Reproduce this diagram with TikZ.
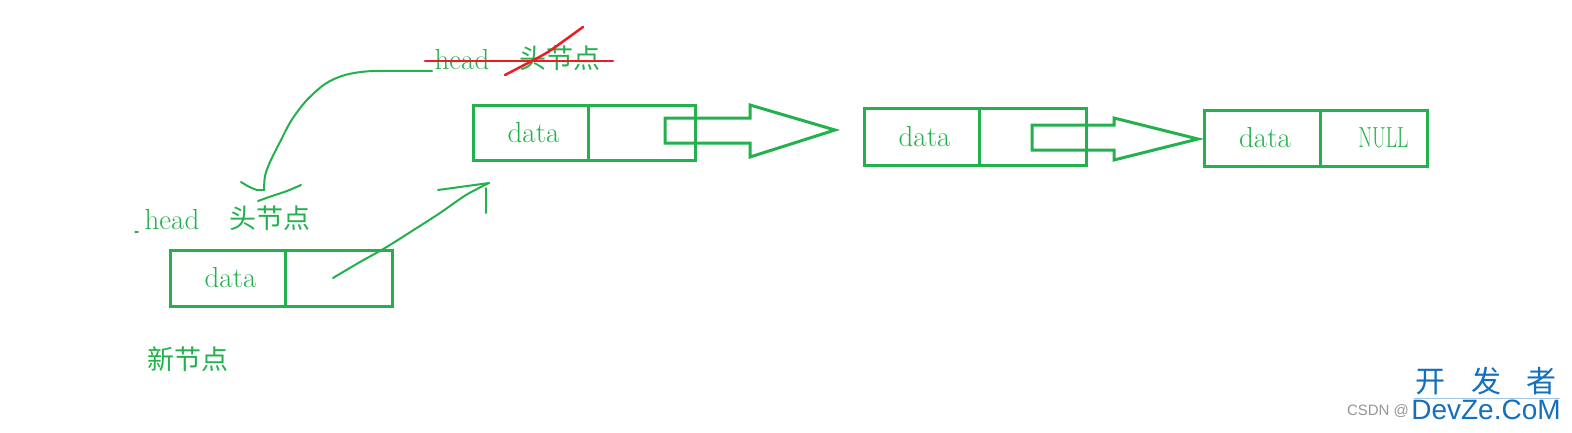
\documentclass[tikz,border=0pt]{standalone}
\usepackage{fontspec}
\newfontfamily\cjk{Noto Sans CJK SC}
\newfontfamily\wsans{Liberation Sans}
\definecolor{pg}{RGB}{34,177,76}
\definecolor{pr}{RGB}{237,28,36}
\definecolor{wb}{RGB}{22,110,190}
\definecolor{wg}{RGB}{150,150,150}
\begin{document}
\begin{tikzpicture}[x=1pt,y=-1pt,
  cell/.style={draw=pg, line width=3pt, minimum height=56pt, inner sep=0pt, text=pg, font=\fontsize{29}{32}\selectfont},
  lbl/.style={text=pg, inner sep=0pt, font=\fontsize{29}{32}\selectfont},
  cn/.style={text=pg, inner sep=0pt, font=\cjk\fontsize{27}{30}\selectfont},
  hollow/.style={draw=pg, line width=3pt, line join=miter},
  pen/.style={draw=pg, line width=2pt, line cap=round, line join=round},
  redpen/.style={draw=pr, line width=2.5pt, line cap=round}]
\useasboundingbox (0,0) rectangle (1572,432);
% boxes
\node[cell, minimum width=115pt, minimum height=55pt] (b1l) at (530.5,132.5) {\hspace*{6pt}data};
\node[cell, minimum width=107pt, minimum height=55pt] (b1r) at (641.5,132.5) {};
\node[cell, minimum width=115pt, minimum height=57pt] (b2l) at (921.5,136.5) {\hspace*{6pt}data};
\node[cell, minimum width=107pt, minimum height=57pt] (b2r) at (1032.5,136.5) {};
\node[cell, minimum width=116pt, minimum height=56pt] (b3l) at (1262,138) {\hspace*{6pt}data};
\node[cell, minimum width=107pt, minimum height=56pt] (b3r) at (1373.5,138) {\hspace*{20pt}\scalebox{0.68}[1]{NULL}};
\node[cell, minimum width=115pt, minimum height=56pt] (nl) at (227.5,278) {\hspace*{6pt}data};
\node[cell, minimum width=107pt, minimum height=56pt] (nr) at (338.5,278) {};
% hollow arrows
\draw[hollow] (750,118) -- (665,118) -- (665,143) -- (750,143) -- (750,157) -- (835,130) -- (750,105) -- cycle;
\draw[hollow] (1114,125) -- (1032,125) -- (1032,150) -- (1114,150) -- (1114,160) -- (1198,139) -- (1114,118) -- cycle;
% labels
\node[lbl] (th) at (462,60) {head};
\node[cn] (tc) at (560,58) {头节点};
\node[lbl] (bh) at (172,220) {head};
\node[cn] (bc) at (270,218) {头节点};
\node[cn] (nn) at (188,359) {新节点};
\draw[pen, line width=1.5pt] (135,232) -- (138,232);
% red strike
\draw[redpen] (425,61) -- (613,61);
\draw[redpen] plot[smooth] coordinates {(505,75) (528,63) (548,52) (565,40) (583,27)};
% freehand arrow 1 (head moved)
\coordinate (c1s) at (432,71);
\coordinate (c1e) at (264,190);
\draw[pen] plot[smooth] coordinates {(c1s) (373,71) (345,75) (325,84) (306,101) (291,121) (280,142) (270,162) (265,176) (c1e)};
\draw[pen] (c1e) -- (257,190) .. controls (250,188) and (246,185) .. (241,182);
\draw[pen] plot[smooth] coordinates {(258,201) (272,196) (287,191) (301,185)};
% freehand arrow 2 (new node -> first node)
\coordinate (c2s) at (333,278);
\coordinate (c2e) at (489,183);
\draw[pen] plot[smooth] coordinates {(c2s) (360,262) (385,248) (412,231) (440,213) (466,195) (c2e)};
\draw[pen] (438,190) -- (c2e);
\draw[pen] (486,188) -- (486,213);
% watermark
\node[text=wb, inner sep=0pt, font=\cjk\fontsize{30}{32}\selectfont] (w1) at (1486,381) {开\hspace{0.85em}发\hspace{0.85em}者};
\draw[wb!40, line width=0.8pt] (1414,398) -- (1560,398);
\node[text=wb, inner sep=0pt, font=\wsans\fontsize{28}{30}\selectfont] (w2) at (1486,410) {DevZe.CoM};
\node[text=wg, inner sep=0pt, font=\wsans\fontsize{15}{17}\selectfont] (w3) at (1378,411) {CSDN @};
\end{tikzpicture}
\end{document}
